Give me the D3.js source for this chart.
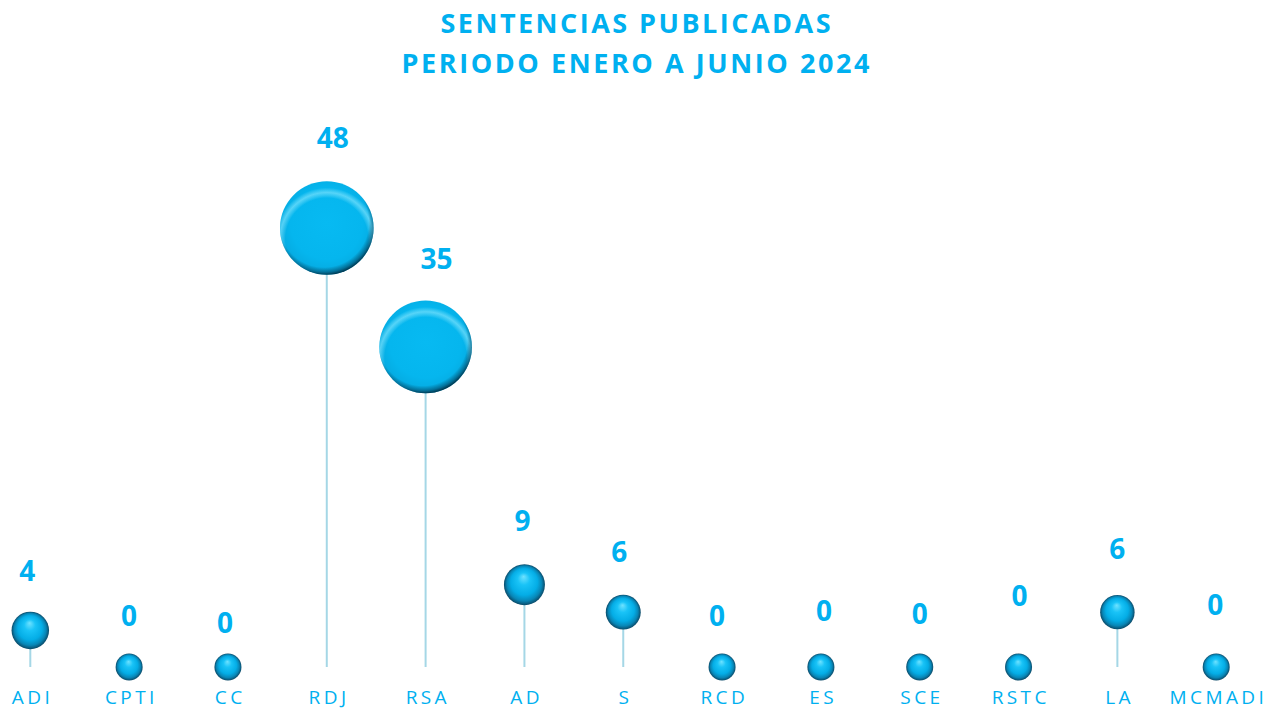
<!DOCTYPE html>
<html><head><meta charset="utf-8">
<script src="https://cdn.jsdelivr.net/npm/d3@7"></script>
<style>
html,body{margin:0;padding:0;background:#fff;}
svg{display:block;}
</style></head>
<body>
<svg id="chart" width="1267" height="710"></svg>
<script>
// ---- data ----
const categories = ["ADI","CPTI","CC","RDJ","RSA","AD","S","RCD","ES","SCE","RSTC","LA","MCMADI"];
const values = [4,0,0,48,35,9,6,0,0,0,0,6,0];
// bubble size series (third dimension of the bubble chart)
const bubbleSize = [7.7,4,4,48,47,9.2,6.7,4,4,4,4,6.5,4];
const titleLines = ["SENTENCIAS PUBLICADAS","PERIODO ENERO A JUNIO 2024"];
// ---- label layout tweaks (manually placed data labels) ----
const labelGap = [31,27,20,33,32,33,33,27,32,29,47,36,38];
const labelDx  = [-3,0,-3,6,11,-2,-4,-5,3,0,1,0,-1];

const W = 1267, H = 710;
const svg = d3.select("#chart");
const blue = "#00b0f0";

const x = d3.scalePoint().domain(categories).range([30.3, 1216.2]);
const y = d3.scaleLinear().domain([0, 48]).range([667, 228]);
const r = d3.scaleSqrt().domain([0, 48]).range([0, 46.8]);

const defs = svg.append("defs");
// small sphere gradient
const g1 = defs.append("radialGradient").attr("id","sphere")
  .attr("cx","50%").attr("cy","50%").attr("r","50%").attr("fx","48%").attr("fy","30%");
[["0%","#6fe2ff"],["30%","#19c3f7"],["65%","#04ade6"],["85%","#0886b6"],["100%","#0b4a68"]]
  .forEach(([o,c])=>g1.append("stop").attr("offset",o).attr("stop-color",c));
// big bubble base
const g2 = defs.append("radialGradient").attr("id","flat")
  .attr("cx","50%").attr("cy","45%").attr("r","55%");
[["0%","#07baf2"],["70%","#05b6ee"],["100%","#05a8de"]]
  .forEach(([o,c])=>g2.append("stop").attr("offset",o).attr("stop-color",c));
// rim shadow
const g3 = defs.append("radialGradient").attr("id","rim")
  .attr("cx","47%").attr("cy","44%").attr("r","57%");
[["0%","rgba(0,40,60,0)"],["84%","rgba(0,40,60,0)"],["93%","rgba(0,45,70,0.45)"],["100%","rgba(0,30,45,0.9)"]]
  .forEach(([o,c])=>g3.append("stop").attr("offset",o).attr("stop-color",c));
// top highlight ring
const g4 = defs.append("radialGradient").attr("id","hl")
  .attr("cx","50%").attr("cy","62%").attr("r","58%");
[["0%","rgba(160,238,255,0)"],["76%","rgba(160,238,255,0)"],["86%","rgba(140,232,255,0.6)"],["95%","rgba(150,235,255,0)"],["100%","rgba(150,235,255,0)"]]
  .forEach(([o,c])=>g4.append("stop").attr("offset",o).attr("stop-color",c));

// title
svg.append("g").selectAll("text").data(titleLines).join("text")
  .attr("x", W/2 + 2).attr("y", (d,i)=> 33 + i*40)
  .attr("text-anchor","middle")
  .attr("font-family","'Open Sans', sans-serif").attr("font-weight","bold")
  .attr("font-size", 27).attr("fill", blue)
  .attr("textLength", (d,i)=> i===0 ? 390 : 468)
  .attr("lengthAdjust","spacing")
  .text(d=>d);

const data = categories.map((c,i)=>({c, v: values[i], s: bubbleSize[i], gap: labelGap[i], dx: labelDx[i]}));

// stems
svg.append("g").selectAll("line").data(data.filter(d=>d.v>0)).join("line")
  .attr("x1", d=>x(d.c)).attr("x2", d=>x(d.c))
  .attr("y1", d=>y(d.v)).attr("y2", y(0))
  .attr("stroke","#a5d7e6").attr("stroke-width",2);

// bubbles
const b = svg.append("g").selectAll("g").data(data).join("g")
  .attr("transform", d=>`translate(${x(d.c)},${y(d.v)})`);
b.filter(d=>r(d.s)<30).append("circle").attr("r", d=>r(d.s)).attr("fill","url(#sphere)");
const big = b.filter(d=>r(d.s)>=30);
big.append("circle").attr("r", d=>r(d.s)).attr("fill","url(#flat)");
big.append("circle").attr("r", d=>r(d.s)).attr("fill","url(#hl)");
big.append("circle").attr("r", d=>r(d.s)).attr("fill","url(#rim)");

// value labels
svg.append("g").selectAll("text").data(data).join("text")
  .attr("x", d=>x(d.c)+d.dx)
  .attr("y", d=>y(d.v) - r(d.s) - d.gap)
  .attr("text-anchor","middle")
  .attr("font-family","'Open Sans', sans-serif").attr("font-weight","bold")
  .attr("font-size",28).attr("fill",blue)
  .text(d=>d.v);

// category axis
const axis = d3.axisBottom(x).tickSize(0).tickPadding(0);
const ax = svg.append("g").attr("transform","translate(0,684)").call(axis);
ax.select(".domain").remove();
ax.selectAll("text")
  .attr("font-family","'Open Sans', sans-serif").attr("font-size",19)
  .attr("fill",blue).attr("letter-spacing","3.4px")
  .attr("dx","1.7px").attr("dy","0").attr("y",20);
</script>
</body></html>
